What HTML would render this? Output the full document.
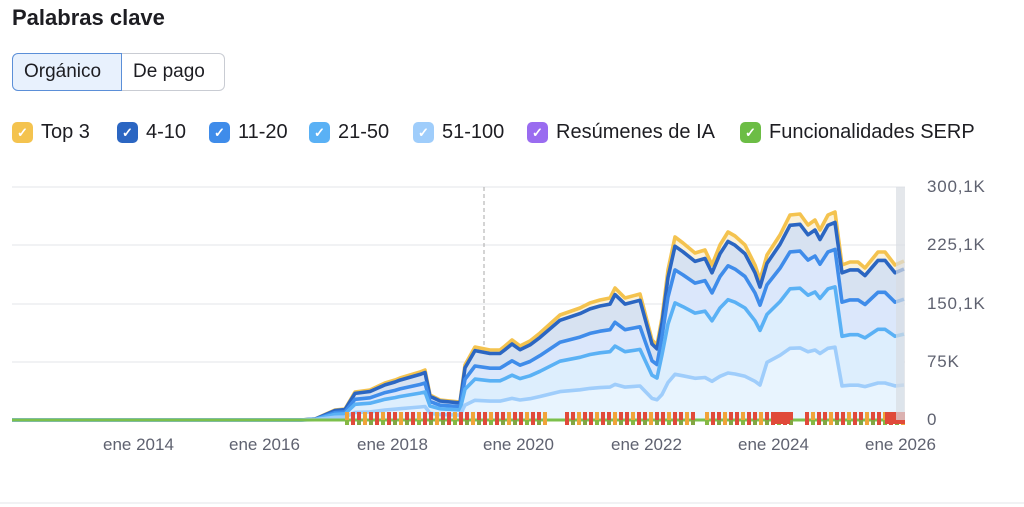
<!DOCTYPE html>
<html><head><meta charset="utf-8"><style>
body{margin:0;width:1024px;height:507px;background:#fff;font-family:"Liberation Sans",Arial,sans-serif;color:#1d1d22;position:relative;overflow:hidden}
.t{position:absolute;left:12px;top:5px;font-size:22px;font-weight:bold}
.btns{position:absolute;left:12px;top:53px;height:38px;display:flex}
.b{height:36px;line-height:36px;font-size:19px;padding:0 11px;border:1px solid #c9ccd3}
.b1{background:#e8f1fd;border-color:#5b8fd8;border-radius:6px 0 0 6px;width:86px}
.b2{border-left:none;border-radius:0 6px 6px 0;width:80px}
.lg{position:absolute;top:121px;font-size:20px;display:flex;align-items:center}
.cb{width:21px;height:21px;border-radius:5px;margin-right:8px;display:inline-flex;align-items:center;justify-content:center;color:#fff;font-size:13px;font-weight:bold}
.ax{position:absolute;font-size:17px;color:#5f6270}
.ay{position:absolute;font-size:17px;color:#5f6270;letter-spacing:0.8px}
</style></head><body>
<div class="t">Palabras clave</div>
<div class="btns"><div class="b b1">Orgánico</div><div class="b b2">De pago</div></div>
<div class="lg" style="left:12px"><span class="cb" style="background:#f4c34f">✓</span>Top 3</div>
<div class="lg" style="left:117px"><span class="cb" style="background:#2b66c2">✓</span>4-10</div>
<div class="lg" style="left:209px"><span class="cb" style="background:#3f8cea">✓</span>11-20</div>
<div class="lg" style="left:309px"><span class="cb" style="background:#5ab1f5">✓</span>21-50</div>
<div class="lg" style="left:413px"><span class="cb" style="background:#9fcdfb">✓</span>51-100</div>
<div class="lg" style="left:527px"><span class="cb" style="background:#9a6cf0">✓</span>Resúmenes de IA</div>
<div class="lg" style="left:740px"><span class="cb" style="background:#6cbd45">✓</span>Funcionalidades SERP</div>
<svg id="s" width="1024" height="507" style="position:absolute;left:0;top:0">
<g stroke="#e3e4ea" stroke-width="1">
<line x1="12" x2="905" y1="187" y2="187"/><line x1="12" x2="905" y1="245" y2="245"/>
<line x1="12" x2="905" y1="304" y2="304"/><line x1="12" x2="905" y1="362" y2="362"/>
</g>
<line x1="484" x2="484" y1="187" y2="420" stroke="#aaa" stroke-dasharray="4,3"/>
<g id="g"></g>
<rect x="896" y="187" width="9" height="233" fill="#d9dde3" opacity="0.7"/>
<line x1="0" x2="1024" y1="503" y2="503" stroke="#e3e4ea"/>
</svg>
<div class="ay" style="left:927px;top:177px">300,1K</div>
<div class="ay" style="left:927px;top:235px">225,1K</div>
<div class="ay" style="left:927px;top:294px">150,1K</div>
<div class="ay" style="left:927px;top:352px">75K</div>
<div class="ay" style="left:927px;top:410px">0</div>
<div class="ax" style="left:103px;top:435px">ene 2014</div>
<div class="ax" style="left:229px;top:435px">ene 2016</div>
<div class="ax" style="left:357px;top:435px">ene 2018</div>
<div class="ax" style="left:483px;top:435px">ene 2020</div>
<div class="ax" style="left:611px;top:435px">ene 2022</div>
<div class="ax" style="left:738px;top:435px">ene 2024</div>
<div class="ax" style="left:865px;top:435px">ene 2026</div>
<script>
var P=[[12,420],[300,420],[315,419],[335,410],[345,409],[355,392],[370,390],[385,383],[395,380],[400,378],[420,372],[425,370],[430,395],[440,400],[460,402],[465,365],[475,347],[490,350],[500,350],[505,346],[512,340],[520,346],[530,341],[540,333],[560,315],[580,308],[590,303],[600,300],[610,298],[615,288],[625,298],[640,294],[652,340],[657,345],[662,318],[668,270],[675,237],[683,243],[695,253],[705,250],[712,265],[720,245],[728,232],[735,236],[745,245],[755,265],[760,280],[767,255],[780,235],[790,215],[800,214],[808,225],[815,220],[820,230],[828,215],[835,212],[842,265],[850,262],[858,262],[865,268],[878,252],[885,252],[895,265],[904,261]];
function r4(x){return 0.95}
function r11(x){return x<660?0.74:(x<842?0.82:0.76)}
function r21(x){return x<660?0.56:(x<842?0.64:0.54)}
function r51(x){return x<660?0.27:(x<765?0.25:(x<842?0.35:0.22))}
var S=[[null,"#f4c34f"],[r4,"#2b66c2"],[r11,"#3f8cea"],[r21,"#5ab1f5"],[r51,"#9fcdfb"]];
var fills=["#fbf1d6","#d3e0f3","#dbe8fc","#ddeefd","#e9f4fe"];
var g=document.getElementById("g"),h="";
var paths=S.map(function(s){return P.map(function(p,i){var y=s[0]?420-(420-p[1])*s[0](p[0]):p[1];return (i?"L":"M")+p[0]+","+y.toFixed(1)}).join("")});
paths.forEach(function(d,i){h+='<path d="'+d+'L904,420L12,420Z" fill="'+fills[i]+'" opacity="0.9"/>'});
for(var i=0;i<paths.length;i++)h+='<path d="'+paths[i]+'" fill="none" stroke="'+S[i][1]+'" stroke-width="3.6" stroke-linejoin="round"/>';
h+='<line x1="12" x2="905" y1="420" y2="420" stroke="#7cc04c" stroke-width="3"/>';
var segs=[[345,545],[565,695],[705,790],[805,905]];
segs.forEach(function(s){for(var x=s[0];x<s[1];x+=6){h+='<rect x="'+x+'" y="412" width="4" height="13" fill="'+(((x/6)|0)%3==0?"#f0a43a":"#e04a3a")+'"/><rect x="'+x+'" y="420" width="4" height="5" fill="#6cbd45" opacity="'+(((x/6)|0)%2?0.8:0)+'"/>'}});
h+='<rect x="772" y="412" width="18" height="12" fill="#e04a3a"/><rect x="885" y="412" width="20" height="12" fill="#e04a3a"/>';
g.innerHTML=h;
</script>
</body></html>
